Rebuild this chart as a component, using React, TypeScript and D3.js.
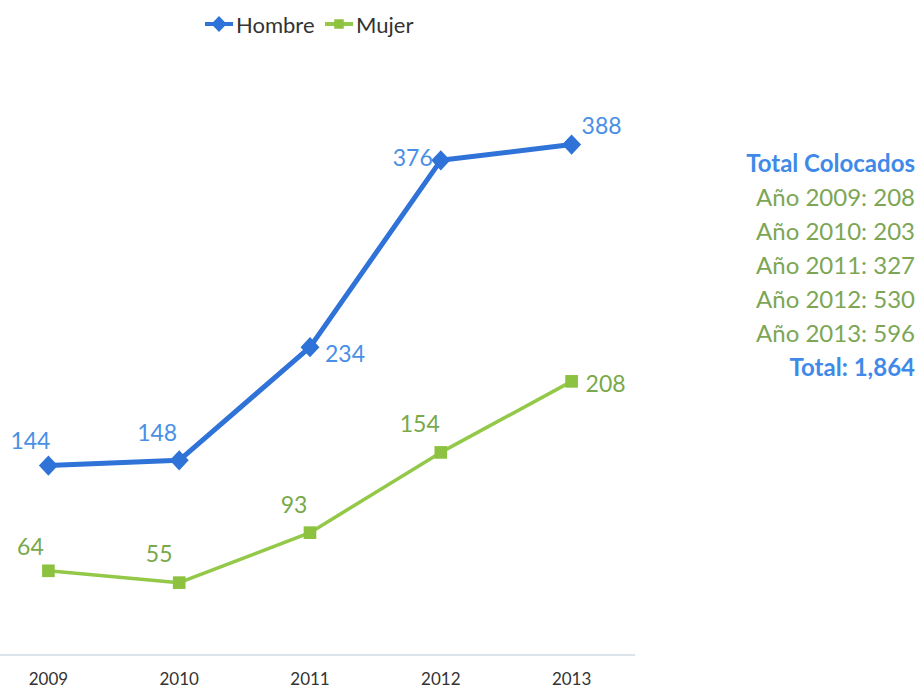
import React, { useEffect, useRef } from 'react';
import * as d3 from 'd3';

const years = ['2009', '2010', '2011', '2012', '2013'];
const hombre = [144, 148, 234, 376, 388];
const mujer = [64, 55, 93, 154, 208];
const totalsTitle = 'Total Colocados';
const totalsByYear = [208, 203, 327, 530, 596];
const grandTotal = '1,864';

// label offsets from each point (layout only)
const hombreLabelOffset = [[-18, -26], [-22, -28], [35, 6], [-28, -3], [30, -20]];
const mujerLabelOffset = [[-18, -25], [-20, -30], [-16, -29], [-21, -29], [34, 2]];

const W = 919;
const H = 692;
const FONT = 'Lato, "Open Sans", sans-serif';

const App = () => {
  const chartRef = useRef<SVGSVGElement | null>(null);

  useEffect(() => {
    const svg = d3.select(chartRef.current);
    svg.selectAll('*').remove();

    const x = d3.scaleBand().domain(years).range([-17, 637]).padding(0);
    const y = d3.scaleLinear().domain([0, 450]).range([655, 63]);
    const cx = (d: string) => (x(d) as number) + x.bandwidth() / 2;

    // axis
    const xAxis = svg.append('g')
      .attr('transform', `translate(0,${y(0)})`)
      .call(d3.axisBottom(x).tickSize(0).tickPadding(18).tickSizeOuter(0));
    xAxis.select('.domain')
      .attr('d', `M0,0H635`)
      .attr('stroke', '#b8c8d8')
      .attr('stroke-width', 1.2);
    xAxis.selectAll('text')
      .attr('font-family', FONT)
      .attr('font-size', 17)
      .attr('fill', '#333');

    const series = [
      { name: 'Hombre', values: hombre, line: '#2f72d8', label: '#4a8fe6', width: 5, marker: 'diamond', offsets: hombreLabelOffset },
      { name: 'Mujer', values: mujer, line: '#93c849', label: '#78a94a', width: 3.5, marker: 'square', offsets: mujerLabelOffset },
    ];

    const line = d3.line<[string, number]>()
      .x(d => cx(d[0]))
      .y(d => y(d[1]));

    series.forEach(s => {
      const pts: [string, number][] = years.map((yr, i) => [yr, s.values[i]]);
      const g = svg.append('g');
      g.append('path')
        .datum(pts)
        .attr('fill', 'none')
        .attr('stroke', s.line)
        .attr('stroke-width', s.width)
        .attr('stroke-linejoin', 'round')
        .attr('d', line);
      const sym = d3.symbol()
        .type(s.marker === 'diamond' ? d3.symbolDiamond : d3.symbolSquare)
        .size(s.marker === 'diamond' ? 130 : 160);
      g.selectAll('path.m')
        .data(pts)
        .join('path')
        .attr('class', 'm')
        .attr('transform', d => `translate(${cx(d[0])},${y(d[1])})${s.marker === 'diamond' ? ' scale(1.55,0.95)' : ''}`)
        .attr('d', sym)
        .attr('fill', s.marker === 'diamond' ? '#2f72d8' : '#8cc240');
      g.selectAll('text')
        .data(pts)
        .join('text')
        .attr('x', (d, i) => cx(d[0]) + s.offsets[i][0])
        .attr('y', (d, i) => y(d[1]) + s.offsets[i][1])
        .attr('text-anchor', 'middle')
        .attr('dominant-baseline', 'central')
        .attr('font-family', FONT)
        .attr('font-size', 23)
        .attr('fill', s.label)
        .text(d => d[1]);
    });

    // legend
    const legend = svg.append('g').attr('transform', 'translate(0,24)');
    const legendItems = [
      { name: 'Hombre', x: 205, color: '#2f72d8', marker: d3.symbolDiamond, fill: '#2f72d8' },
      { name: 'Mujer', x: 325, color: '#93c849', marker: d3.symbolSquare, fill: '#8cc240' },
    ];
    legendItems.forEach(it => {
      legend.append('line')
        .attr('x1', it.x).attr('x2', it.x + 28)
        .attr('stroke', it.color).attr('stroke-width', 4);
      legend.append('path')
        .attr('transform', `translate(${it.x + 14},0)${it.name === 'Hombre' ? ' scale(1.5,0.9)' : ''}`)
        .attr('d', d3.symbol().type(it.marker).size(90)())
        .attr('fill', it.fill);
      legend.append('text')
        .attr('x', it.x + 31)
        .attr('dominant-baseline', 'central')
        .attr('font-family', FONT)
        .attr('font-size', 22)
        .attr('fill', '#333')
        .text(it.name);
    });

    // totals box
    const totals = svg.append('g').attr('transform', 'translate(915,0)').attr('text-anchor', 'end')
      .attr('font-family', FONT).attr('font-size', 24);
    totals.append('text')
      .attr('y', 162).attr('dominant-baseline', 'central')
      .attr('font-weight', 'bold').attr('fill', '#3f8ae8')
      .text(totalsTitle);
    totalsByYear.forEach((v, i) => {
      totals.append('text')
        .attr('y', 196 + i * 34).attr('dominant-baseline', 'central')
        .attr('fill', '#7ca656')
        .text(`Año ${years[i]}: ${v}`);
    });
    totals.append('text')
      .attr('y', 196 + totalsByYear.length * 34).attr('dominant-baseline', 'central')
      .attr('font-weight', 'bold').attr('fill', '#3f8ae8')
      .text(`Total: ${grandTotal}`);
  }, []);

  return (
    <svg
      ref={chartRef}
      width={W}
      height={H}
      style={{ position: 'fixed', top: 0, left: 0, background: '#fff' }}
    />
  );
};

export default App;
